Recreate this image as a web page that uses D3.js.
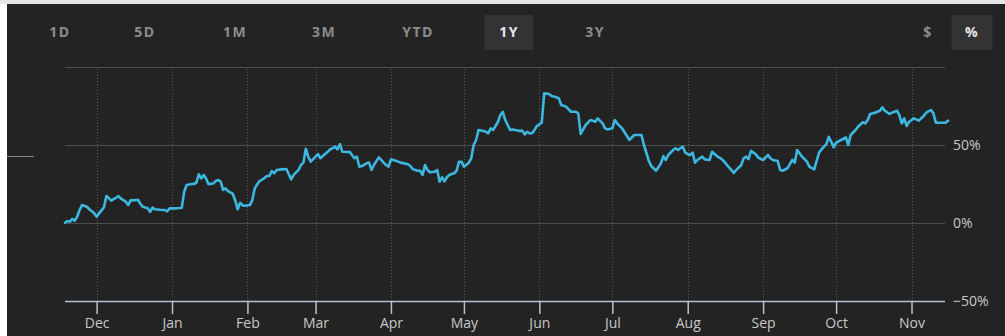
<!DOCTYPE html>
<html>
<head>
<meta charset="utf-8">
<script src="https://cdn.jsdelivr.net/npm/d3@7"></script>
<style>
  html, body { margin: 0; padding: 0; background: #ffffff; }
  svg { display: block; font-family: "Open Sans", "DejaVu Sans", sans-serif; }
</style>
</head>
<body>
<div id="chart"></div>
<script>
// Range buttons across the top
const ranges = ["1D", "5D", "1M", "3M", "YTD", "1Y", "3Y"];
const activeRange = "1Y";
const modes = ["$", "%"];
const activeMode = "%";

// Month ticks and percent ticks
const monthTicks = ["2022-12-01", "2023-01-01", "2023-02-01", "2023-03-01", "2023-04-01", "2023-05-01",
  "2023-06-01", "2023-07-01", "2023-08-01", "2023-09-01", "2023-10-01", "2023-11-01"];
const pctGrid = [100, 50, 0, -50];
const pctLabels = [50, 0, -50];

// 1Y percent change
const dates = [
  "2022-11-18", "2022-11-19", "2022-11-20", "2022-11-21", "2022-11-22", "2022-11-23", "2022-11-24", "2022-11-25",
  "2022-11-27", "2022-11-28", "2022-11-30",
  "2022-12-01", "2022-12-02", "2022-12-04", "2022-12-05", "2022-12-06", "2022-12-07", "2022-12-09", "2022-12-10",
  "2022-12-11", "2022-12-13", "2022-12-14", "2022-12-15", "2022-12-16", "2022-12-18", "2022-12-19", "2022-12-20",
  "2022-12-22", "2022-12-23", "2022-12-24", "2022-12-25", "2022-12-27", "2022-12-29", "2022-12-30", "2022-12-31",
  "2023-01-02", "2023-01-04", "2023-01-05", "2023-01-06", "2023-01-07", "2023-01-09", "2023-01-10", "2023-01-11",
  "2023-01-12", "2023-01-13", "2023-01-14", "2023-01-15", "2023-01-16", "2023-01-18", "2023-01-19", "2023-01-20",
  "2023-01-21", "2023-01-22", "2023-01-23", "2023-01-24", "2023-01-26", "2023-01-27", "2023-01-28", "2023-01-29",
  "2023-01-30", "2023-01-31",
  "2023-02-02", "2023-02-03", "2023-02-04", "2023-02-05", "2023-02-06", "2023-02-08", "2023-02-09", "2023-02-10",
  "2023-02-11", "2023-02-12", "2023-02-13", "2023-02-15", "2023-02-17", "2023-02-19", "2023-02-20", "2023-02-22",
  "2023-02-23", "2023-02-24", "2023-02-25", "2023-02-26", "2023-02-27", "2023-02-28",
  "2023-03-02", "2023-03-03", "2023-03-04", "2023-03-06", "2023-03-07", "2023-03-08", "2023-03-09", "2023-03-10",
  "2023-03-11", "2023-03-12", "2023-03-14", "2023-03-15", "2023-03-17", "2023-03-18", "2023-03-19", "2023-03-20",
  "2023-03-22", "2023-03-23", "2023-03-24", "2023-03-25", "2023-03-27", "2023-03-28", "2023-03-29", "2023-03-30",
  "2023-03-31",
  "2023-04-01", "2023-04-03", "2023-04-05", "2023-04-08", "2023-04-09", "2023-04-10", "2023-04-12", "2023-04-13",
  "2023-04-14", "2023-04-15", "2023-04-16", "2023-04-17", "2023-04-19", "2023-04-20", "2023-04-21", "2023-04-22",
  "2023-04-23", "2023-04-24", "2023-04-25", "2023-04-26", "2023-04-27", "2023-04-28", "2023-04-29", "2023-04-30",
  "2023-05-01", "2023-05-03", "2023-05-04", "2023-05-05", "2023-05-06", "2023-05-07", "2023-05-09", "2023-05-10",
  "2023-05-11", "2023-05-12", "2023-05-13", "2023-05-14", "2023-05-15", "2023-05-16", "2023-05-17", "2023-05-18",
  "2023-05-20", "2023-05-21", "2023-05-22", "2023-05-24", "2023-05-25", "2023-05-26", "2023-05-27", "2023-05-28",
  "2023-05-29", "2023-05-30", "2023-05-31",
  "2023-06-02", "2023-06-03", "2023-06-05", "2023-06-06", "2023-06-08", "2023-06-09", "2023-06-10", "2023-06-12",
  "2023-06-13", "2023-06-14", "2023-06-16", "2023-06-17", "2023-06-18", "2023-06-20", "2023-06-22", "2023-06-23",
  "2023-06-24", "2023-06-25", "2023-06-27", "2023-06-28", "2023-06-29",
  "2023-07-01", "2023-07-02", "2023-07-03", "2023-07-05", "2023-07-07", "2023-07-08", "2023-07-10", "2023-07-12",
  "2023-07-13", "2023-07-14", "2023-07-16", "2023-07-17", "2023-07-19", "2023-07-21", "2023-07-22", "2023-07-23",
  "2023-07-24", "2023-07-26", "2023-07-27", "2023-07-28", "2023-07-29", "2023-07-30", "2023-07-31",
  "2023-08-01", "2023-08-02", "2023-08-03", "2023-08-04", "2023-08-05", "2023-08-07", "2023-08-08", "2023-08-10",
  "2023-08-11", "2023-08-13", "2023-08-15", "2023-08-16", "2023-08-18", "2023-08-20", "2023-08-21", "2023-08-23",
  "2023-08-24", "2023-08-25", "2023-08-26", "2023-08-27", "2023-08-29", "2023-08-30",
  "2023-09-01", "2023-09-03", "2023-09-04", "2023-09-05", "2023-09-07", "2023-09-08", "2023-09-09", "2023-09-11",
  "2023-09-12", "2023-09-13", "2023-09-14", "2023-09-15", "2023-09-17", "2023-09-19", "2023-09-20", "2023-09-22",
  "2023-09-24", "2023-09-25", "2023-09-27", "2023-09-28", "2023-09-29", "2023-09-30",
  "2023-10-01", "2023-10-03", "2023-10-05", "2023-10-06", "2023-10-07", "2023-10-09", "2023-10-10", "2023-10-12",
  "2023-10-13", "2023-10-14", "2023-10-15", "2023-10-17", "2023-10-19", "2023-10-20", "2023-10-21", "2023-10-23",
  "2023-10-24", "2023-10-26", "2023-10-27", "2023-10-28", "2023-10-29", "2023-10-30", "2023-10-31",
  "2023-11-02", "2023-11-04", "2023-11-06", "2023-11-07", "2023-11-09", "2023-11-10", "2023-11-11", "2023-11-12",
  "2023-11-15", "2023-11-16"
];
const returns = [
  0.2, 1.3, 0.8, 2.6, 1.5, 4.0, 8.3, 11.5,
  10.4, 8.8, 6.2,
  4.0, 6.2, 10.0, 17.3, 16.0, 14.3, 16.2, 17.3,
  15.6, 13.7, 11.5, 14.7, 14.5, 14.9, 12.2, 10.4,
  9.4, 7.2, 9.8, 8.8, 8.5, 8.3, 7.5, 9.4,
  9.4, 9.6, 9.8, 20.1, 24.4, 25.0, 25.0, 25.8,
  31.2, 28.6, 30.8, 28.6, 24.8, 25.4, 26.9, 27.6,
  26.5, 21.2, 22.2, 20.5, 18.6, 14.3, 8.8, 13.0,
  11.3, 11.1,
  11.5, 14.7, 22.2, 24.8, 26.9, 28.8, 30.1, 30.1,
  33.3, 31.9, 34.0, 34.4, 34.6, 28.0, 30.8, 34.0,
  37.2, 38.7, 47.6, 42.5, 39.3, 41.0,
  44.2, 41.5, 42.9, 45.7, 47.2, 47.9, 48.9, 47.2,
  50.6, 45.7, 45.5, 45.7, 41.5, 42.5, 36.1, 36.5,
  38.3, 38.7, 34.0, 37.2, 42.1, 40.4, 38.7, 37.2,
  36.1,
  40.8, 39.9, 38.7, 37.6, 36.5, 34.4, 33.5, 33.5,
  30.8, 37.2, 34.0, 32.5, 32.9, 34.0, 26.5, 29.3,
  26.7, 29.3, 30.8, 31.4, 31.9, 33.5, 39.3, 39.3,
  36.1, 38.7, 41.5, 50.0, 53.2, 59.6, 59.0, 58.5,
  57.5, 60.7, 59.6, 62.2, 64.9, 69.2, 71.3, 66.0,
  59.6, 60.0, 59.6, 59.0, 59.2, 56.8, 58.5, 57.5,
  57.5, 59.6, 62.2,
  64.3, 83.1, 82.7, 81.4, 80.6, 79.9, 75.6, 74.6,
  72.9, 71.3, 71.3, 70.3, 57.1, 62.8, 66.0, 65.6,
  64.9, 67.1, 63.9, 60.7, 60.0,
  60.7, 66.0, 63.9, 60.7, 55.8, 53.2, 56.4, 56.4,
  56.4, 50.0, 39.9, 36.5, 33.5, 38.3, 42.9, 40.4,
  43.6, 46.8, 47.9, 46.8, 47.9, 48.9, 45.1,
  44.2, 43.6, 45.1, 38.7, 40.4, 42.5, 40.8, 40.4,
  45.7, 42.9, 41.0, 39.3, 35.6, 32.2, 34.0, 37.2,
  41.5, 42.5, 41.0, 46.2, 44.0, 41.9,
  40.4, 43.6, 41.5, 40.4, 39.7, 34.0, 33.5, 35.1,
  37.8, 40.4, 38.7, 46.8, 42.5, 39.3, 36.1, 34.4,
  45.1, 47.2, 50.6, 55.3, 52.1, 48.5,
  51.5, 53.2, 54.9, 50.0, 56.4, 59.6, 61.7, 64.6,
  63.9, 66.0, 69.9, 70.7, 72.0, 74.2, 72.0, 69.9,
  70.7, 72.0, 69.2, 63.9, 67.1, 62.2, 64.9,
  67.1, 65.6, 68.6, 70.7, 72.4, 70.3, 64.3, 64.3,
  64.3, 65.6
];

const width = 1005, height = 336;
const parseDate = d3.timeParse("%Y-%m-%d");
const series = dates.map((d, i) => ({ date: parseDate(d), value: returns[i] }));

const plot = { left: 65, right: 945, top: 67, bottom: 301 };

const svg = d3.select("#chart")
  .append("svg")
  .attr("width", width)
  .attr("height", height);

// page chrome: light strip on top, dark panel
svg.append("rect").attr("x", 0).attr("y", 0).attr("width", width).attr("height", 4).attr("fill", "#e6e6e6");
svg.append("rect").attr("x", 7).attr("y", 4).attr("width", width - 7).attr("height", height - 4).attr("fill", "#232323");
svg.append("line")
  .attr("x1", 7).attr("x2", 34).attr("y1", 156.5).attr("y2", 156.5)
  .style("stroke", "#8a8a8a").style("stroke-width", 1);

// toolbar
const buttonX = { "1D": 60, "5D": 145, "1M": 235, "3M": 324, "YTD": 418, "1Y": 509, "3Y": 595, "$": 928, "%": 972 };
const boxWidth = { "1Y": 49, "%": 41 };
const toolbar = svg.append("g").attr("class", "toolbar");
ranges.concat(modes).forEach(label => {
  const active = label === activeRange || label === activeMode;
  if (active) {
    toolbar.append("rect")
      .attr("x", buttonX[label] - boxWidth[label] / 2)
      .attr("y", 15)
      .attr("width", boxWidth[label])
      .attr("height", 35)
      .attr("fill", "#333333");
  }
  toolbar.append("text")
    .attr("x", buttonX[label])
    .attr("y", 33)
    .attr("text-anchor", "middle")
    .attr("dominant-baseline", "middle")
    .style("font-size", "14px")
    .style("font-weight", "700")
    .style("letter-spacing", "1.5px")
    .style("fill", active ? "#e8e8e8" : "#8c8c8c")
    .text(label);
});

const xScale = d3.scaleTime()
  .domain([parseDate("2022-11-18"), parseDate("2023-11-16")])
  .range([plot.left, 948]);

const yScale = d3.scaleLinear()
  .domain([-50, 100])
  .range([plot.bottom, plot.top]);

// horizontal grid
svg.append("g")
  .attr("class", "grid")
  .selectAll("line")
  .data(pctGrid.filter(v => v !== -50))
  .enter()
  .append("line")
  .attr("x1", plot.left)
  .attr("x2", plot.right)
  .attr("y1", d => Math.round(yScale(d)) + 0.5)
  .attr("y2", d => Math.round(yScale(d)) + 0.5)
  .style("stroke", "#4e4e4e")
  .style("stroke-width", 1.2);

// dotted month lines
const monthDates = monthTicks.map(parseDate);
svg.append("g")
  .attr("class", "month-grid")
  .selectAll("line")
  .data(monthDates)
  .enter()
  .append("line")
  .attr("x1", d => Math.round(xScale(d)) + 0.5)
  .attr("x2", d => Math.round(xScale(d)) + 0.5)
  .attr("y1", plot.top + 2)
  .attr("y2", plot.bottom)
  .style("stroke", "#5a5a5a")
  .style("stroke-dasharray", "1,2");

// right percent labels
const yAxis = d3.axisRight(yScale)
  .tickValues(pctLabels)
  .tickSize(0)
  .tickPadding(8)
  .tickFormat(d => (d < 0 ? "\u2212" : "") + Math.abs(d) + "%");

svg.append("g")
  .attr("class", "y-axis")
  .attr("transform", `translate(${plot.right}, 0)`)
  .call(yAxis)
  .call(g => g.select(".domain").remove())
  .selectAll("text")
  .style("font-family", "'Open Sans', sans-serif")
  .style("font-size", "14px")
  .style("fill", "#c8c8c8");

// bottom month axis
const xAxis = d3.axisBottom(xScale)
  .tickValues(monthDates)
  .tickSizeInner(13)
  .tickSizeOuter(0)
  .tickPadding(4)
  .tickFormat(d3.timeFormat("%b"));

const xg = svg.append("g")
  .attr("class", "x-axis")
  .attr("transform", `translate(0, ${plot.bottom})`)
  .call(xAxis);
xg.select(".domain")
  .attr("d", `M${plot.left},0.5H${plot.right}`)
  .style("stroke", "#b7c3cf")
  .style("stroke-width", 1.5);
xg.selectAll(".tick line").style("stroke", "#b7c3cf").style("stroke-width", 1.5);
xg.selectAll("text")
  .style("font-family", "'Open Sans', sans-serif")
  .style("font-size", "14px")
  .style("fill", "#c8c8c8");

// price line
const line = d3.line()
  .x(d => xScale(d.date))
  .y(d => yScale(d.value));

svg.append("path")
  .datum(series)
  .attr("d", line)
  .attr("fill", "none")
  .style("stroke", "#3cb8e0")
  .style("stroke-width", 2.6)
  .style("stroke-linejoin", "round")
  .style("stroke-linecap", "round");
</script>
</body>
</html>
